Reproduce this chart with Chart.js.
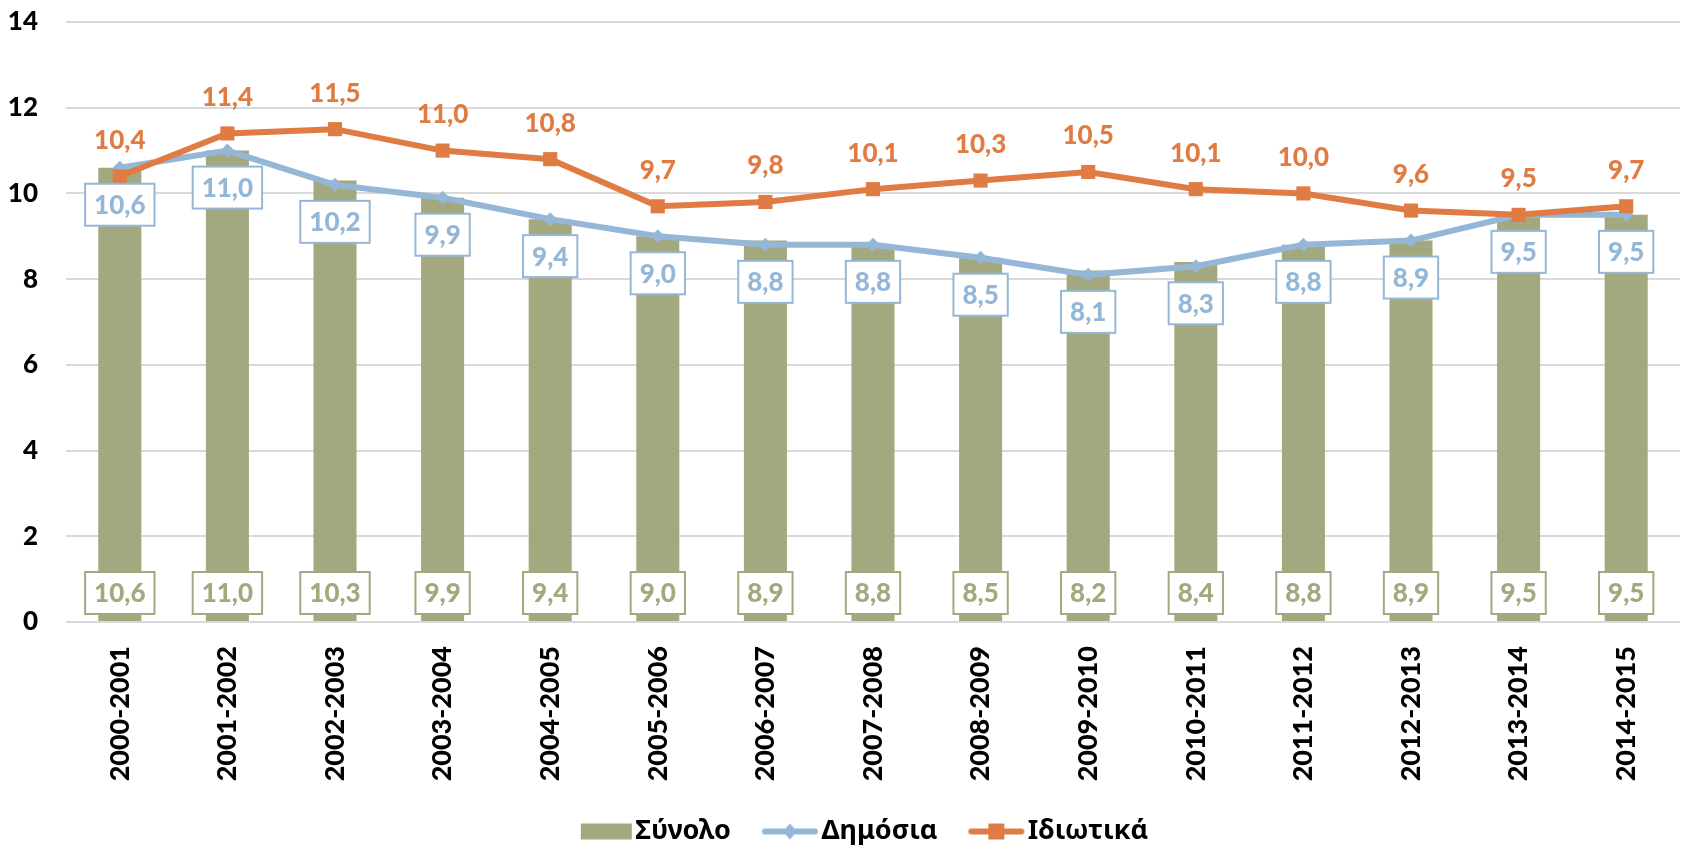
<!DOCTYPE html>
<html>
<head>
<meta charset="utf-8">
<script src="https://cdn.jsdelivr.net/npm/chart.js@4"></script>
<style>
html,body{margin:0;padding:0;background:#fff;}
#wrap{width:1690px;height:850px;position:relative;}
</style>
</head>
<body>
<div id="wrap"><canvas id="c" width="1690" height="850"></canvas></div>
<script>
const categories = ["2000-2001","2001-2002","2002-2003","2003-2004","2004-2005","2005-2006","2006-2007","2007-2008","2008-2009","2009-2010","2010-2011","2011-2012","2012-2013","2013-2014","2014-2015"];
const totalValues = [10.6,11.0,10.3,9.9,9.4,9.0,8.9,8.8,8.5,8.2,8.4,8.8,8.9,9.5,9.5];
const publicValues = [10.6,11.0,10.2,9.9,9.4,9.0,8.8,8.8,8.5,8.1,8.3,8.8,8.9,9.5,9.5];
const privateValues = [10.4,11.4,11.5,11.0,10.8,9.7,9.8,10.1,10.3,10.5,10.1,10.0,9.6,9.5,9.7];
const yTicks = [0,2,4,6,8,10,12,14];
const seriesNames = ["Σύνολο","Δημόσια","Ιδιωτικά"];

const OLIVE = '#A4A87E';
const BLUE = '#95B7D7';
const ORANGE = '#E07C43';
const NUMFONT = 'Lato, "DejaVu Sans", sans-serif';

function fmt(v){ return v.toFixed(1).replace('.', ','); }

function legendImg(kind){
  const W = 68, H = 20;
  const c = document.createElement('canvas');
  c.width = W; c.height = H;
  const g = c.getContext('2d');
  if (kind === 'bar') {
    g.fillStyle = OLIVE; g.fillRect(16, 2, 51, 16);
  } else {
    const col = kind === 'blue' ? BLUE : ORANGE;
    g.strokeStyle = col; g.lineWidth = 6; g.lineCap = 'round';
    g.beginPath(); g.moveTo(14, 10); g.lineTo(64, 10); g.stroke();
    g.fillStyle = col;
    const cx = 39;
    if (kind === 'blue') {
      g.beginPath(); g.moveTo(cx, 2); g.lineTo(cx + 7, 10); g.lineTo(cx, 18); g.lineTo(cx - 7, 10); g.closePath(); g.fill();
    } else {
      g.fillRect(cx - 8, 2, 16, 16);
    }
  }
  return c;
}
const legendImgs = [legendImg('bar'), legendImg('blue'), legendImg('orange')];

const labelPlugin = {
  id: 'valueLabels',
  afterLayout(chart) {
    const lg = chart.legend;
    if (lg) { lg.left += 18; lg.right += 18; }
  },
  afterDatasetsDraw(chart) {
    const ctx = chart.ctx;
    const y = chart.scales.y;
    ctx.save();
    ctx.font = '900 26px ' + NUMFONT;
    ctx.textAlign = 'center';
    ctx.textBaseline = 'middle';
    function box(cx, cy, text, col) {
      const tw = ctx.measureText(text).width;
      const w = tw + 18, h = 42;
      ctx.fillStyle = '#fff';
      ctx.fillRect(cx - w / 2, cy - h / 2, w, h);
      ctx.strokeStyle = col; ctx.lineWidth = 2;
      ctx.strokeRect(cx - w / 2, cy - h / 2, w, h);
      ctx.fillStyle = col;
      ctx.fillText(text, cx, cy + 1);
    }
    const barMeta = chart.getDatasetMeta(0);
    const base = y.getPixelForValue(0);
    barMeta.data.forEach((el, i) => box(el.x, base - 29, fmt(totalValues[i]), OLIVE));
    const pubMeta = chart.getDatasetMeta(1);
    pubMeta.data.forEach((el, i) => box(el.x, el.y + 37, fmt(publicValues[i]), BLUE));
    const privMeta = chart.getDatasetMeta(2);
    ctx.fillStyle = ORANGE;
    privMeta.data.forEach((el, i) => ctx.fillText(fmt(privateValues[i]), el.x, el.y - 36));
    ctx.restore();
  }
};

new Chart(document.getElementById('c'), {
  type: 'bar',
  data: {
    labels: categories,
    datasets: [
      { type: 'bar', label: seriesNames[0], data: totalValues, backgroundColor: OLIVE, borderWidth: 0,
        categoryPercentage: 1, barPercentage: 0.4, order: 3 },
      { type: 'line', label: seriesNames[1], data: publicValues, borderColor: BLUE, backgroundColor: BLUE,
        borderWidth: 6, pointStyle: 'rectRot', pointRadius: 7, pointBorderWidth: 0, tension: 0, order: 2 },
      { type: 'line', label: seriesNames[2], data: privateValues, borderColor: ORANGE, backgroundColor: ORANGE,
        borderWidth: 6, pointStyle: 'rect', pointRadius: 10, pointBorderWidth: 0, tension: 0, order: 1 }
    ]
  },
  options: {
    responsive: false,
    animation: false,
    events: [],
    layout: { padding: { top: 22, right: 2, left: 0, bottom: -5 } },
    scales: {
      x: {
        offset: true,
        grid: { display: false, drawTicks: false },
        border: { display: false },
        ticks: { color: '#000', font: { family: NUMFONT, weight: '900', size: 27 }, minRotation: 90, maxRotation: 90, padding: 24, autoSkip: false },
        afterFit(s) { s.height = 165; s.paddingTop = 0; s.paddingBottom = 0; }
      },
      y: {
        min: 0, max: 14,
        afterBuildTicks(s) { s.ticks = yTicks.map(v => ({ value: v })); },
        grid: { color: '#D9D9D9', lineWidth: 2, drawTicks: false },
        border: { display: false },
        ticks: { color: '#000', font: { family: NUMFONT, weight: '900', size: 26 }, padding: 28 },
        afterFit(s) { s.width = 66; s.paddingTop = 0; s.paddingBottom = 0; }
      }
    },
    plugins: {
      tooltip: { enabled: false },
      legend: {
        position: 'bottom',
        labels: {
          usePointStyle: true,
          pointStyleWidth: 46,
          padding: 31,
          color: '#000',
          font: { family: '"Noto Sans", "Open Sans", sans-serif', weight: 'bold', size: 27 },
          generateLabels(chart) {
            return seriesNames.map((n, i) => ({ text: n, pointStyle: legendImgs[i], fillStyle: '#fff', strokeStyle: '#fff', lineWidth: 0, datasetIndex: i, fontColor: '#000' }));
          }
        }
      }
    }
  },
  plugins: [labelPlugin]
});
</script>
</body>
</html>
